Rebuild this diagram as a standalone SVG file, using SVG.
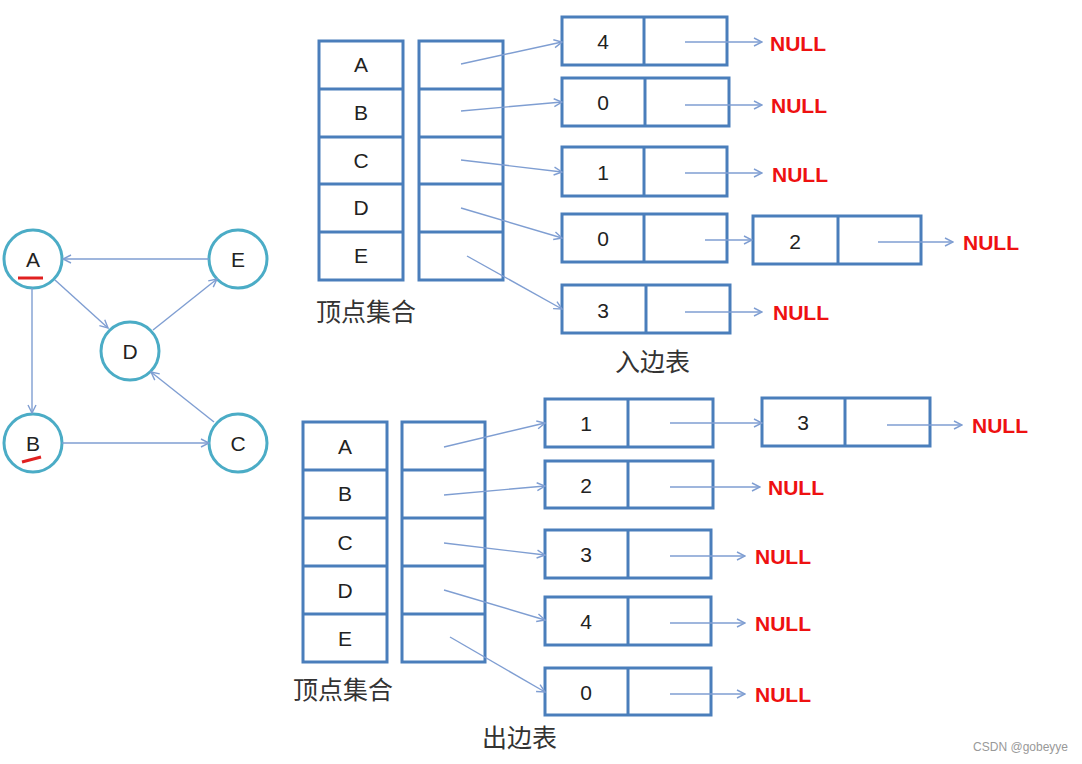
<svg xmlns="http://www.w3.org/2000/svg" width="1082" height="764" viewBox="0 0 1082 764">
<style>
.c{fill:#fff;stroke:#4BACC6;stroke-width:3}
.b{fill:#fff;stroke:#4A7EBB;stroke-width:3}
.t{font-family:"Liberation Sans",Arial,sans-serif;font-size:21px;fill:#222;text-anchor:middle}
.n{font-family:"Liberation Sans",Arial,sans-serif;font-size:21px;font-weight:bold;fill:#EE1111}
.z{font-family:"Noto Sans CJK SC","Noto Sans",sans-serif;font-size:25px;fill:#333}
.e{fill:none;stroke:#7F9ED2;stroke-width:1.4;marker-end:url(#ah)}
</style>
<defs>
<marker id="ah" viewBox="0 0 10 10" refX="9" refY="5" markerWidth="10" markerHeight="10" markerUnits="userSpaceOnUse" orient="auto">
<path d="M1,1 L9,5 L1,9" fill="none" stroke="#7F9ED2" stroke-width="1.4"/>
</marker>
</defs>
<rect width="1082" height="764" fill="#fff"/>

<!-- graph -->
<g id="graph-nodes">
<g id="gA"><circle class="c" cx="33" cy="259" r="29"/><text class="t" x="33" y="267">A</text><line x1="18" y1="278" x2="43" y2="278" stroke="#E02020" stroke-width="3"/></g>
<g id="gE"><circle class="c" cx="238" cy="259" r="29"/><text class="t" x="238" y="267">E</text></g>
<g id="gD"><circle class="c" cx="130" cy="351" r="29"/><text class="t" x="130" y="359">D</text></g>
<g id="gB"><circle class="c" cx="33" cy="443" r="29"/><text class="t" x="33" y="451">B</text><path d="M22,462 L41,457" stroke="#E02020" stroke-width="3"/></g>
<g id="gC"><circle class="c" cx="238" cy="443" r="29"/><text class="t" x="238" y="451">C</text></g>
</g>

<!-- top table -->
<g id="top-vertices">
<rect class="b" x="319" y="41" width="84" height="239"/>
<path d="M319,89H403M319,137H403M319,184H403M319,232H403" stroke="#4A7EBB" stroke-width="3"/>
<text class="t" x="361" y="72">A</text><text class="t" x="361" y="120">B</text><text class="t" x="361" y="168">C</text><text class="t" x="361" y="215">D</text><text class="t" x="361" y="263">E</text>
<rect class="b" x="419" y="41" width="84" height="239"/>
<path d="M419,89H503M419,137H503M419,184H503M419,232H503" stroke="#4A7EBB" stroke-width="3"/>
</g>
<g id="in-nodes">
<g id="i1"><rect class="b" x="562" y="17" width="165" height="48"/><line x1="644" y1="17" x2="644" y2="65" stroke="#4A7EBB" stroke-width="3"/><text class="t" x="603" y="49">4</text></g>
<g id="i2"><rect class="b" x="562" y="78" width="167" height="48"/><line x1="645" y1="78" x2="645" y2="126" stroke="#4A7EBB" stroke-width="3"/><text class="t" x="603" y="110">0</text></g>
<g id="i3"><rect class="b" x="562" y="147" width="165" height="49"/><line x1="644" y1="147" x2="644" y2="196" stroke="#4A7EBB" stroke-width="3"/><text class="t" x="603" y="180">1</text></g>
<g id="i4"><rect class="b" x="562" y="214" width="165" height="48"/><line x1="644" y1="214" x2="644" y2="262" stroke="#4A7EBB" stroke-width="3"/><text class="t" x="603" y="246">0</text></g>
<g id="i4b"><rect class="b" x="753" y="216" width="168" height="48"/><line x1="838" y1="216" x2="838" y2="264" stroke="#4A7EBB" stroke-width="3"/><text class="t" x="795" y="249">2</text></g>
<g id="i5"><rect class="b" x="562" y="285" width="168" height="48"/><line x1="646" y1="285" x2="646" y2="333" stroke="#4A7EBB" stroke-width="3"/><text class="t" x="603" y="318">3</text></g>
</g>

<!-- bottom table -->
<g id="bottom-vertices">
<rect class="b" x="303" y="422" width="84" height="240"/>
<path d="M303,470H387M303,518H387M303,566H387M303,614H387" stroke="#4A7EBB" stroke-width="3"/>
<text class="t" x="345" y="454">A</text><text class="t" x="345" y="501">B</text><text class="t" x="345" y="550">C</text><text class="t" x="345" y="598">D</text><text class="t" x="345" y="646">E</text>
<rect class="b" x="402" y="422" width="83" height="240"/>
<path d="M402,470H485M402,518H485M402,566H485M402,614H485" stroke="#4A7EBB" stroke-width="3"/>
</g>
<g id="out-nodes">
<g id="o1"><rect class="b" x="545" y="399" width="168" height="48"/><line x1="628" y1="399" x2="628" y2="447" stroke="#4A7EBB" stroke-width="3"/><text class="t" x="586" y="431">1</text></g>
<g id="o1b"><rect class="b" x="762" y="398" width="168" height="48"/><line x1="845" y1="398" x2="845" y2="446" stroke="#4A7EBB" stroke-width="3"/><text class="t" x="803" y="430">3</text></g>
<g id="o2"><rect class="b" x="545" y="461" width="168" height="47"/><line x1="628" y1="461" x2="628" y2="508" stroke="#4A7EBB" stroke-width="3"/><text class="t" x="586" y="493">2</text></g>
<g id="o3"><rect class="b" x="545" y="530" width="166" height="48"/><line x1="628" y1="530" x2="628" y2="578" stroke="#4A7EBB" stroke-width="3"/><text class="t" x="586" y="562">3</text></g>
<g id="o4"><rect class="b" x="545" y="597" width="166" height="48"/><line x1="628" y1="597" x2="628" y2="645" stroke="#4A7EBB" stroke-width="3"/><text class="t" x="586" y="629">4</text></g>
<g id="o5"><rect class="b" x="545" y="668" width="166" height="47"/><line x1="628" y1="668" x2="628" y2="715" stroke="#4A7EBB" stroke-width="3"/><text class="t" x="586" y="700">0</text></g>
</g>

<!-- connectors -->
<g id="connectors">
<line class="e" x1="209" y1="259" x2="63" y2="259"/>
<line class="e" x1="55" y1="280" x2="108" y2="328"/>
<line class="e" x1="153" y1="330" x2="217" y2="279"/>
<line class="e" x1="32" y1="288" x2="32" y2="413"/>
<line class="e" x1="62" y1="443" x2="209" y2="443"/>
<line class="e" x1="214" y1="422" x2="151" y2="372"/>

<line class="e" x1="461" y1="64" x2="562" y2="42"/>
<line class="e" x1="461" y1="111" x2="562" y2="102"/>
<line class="e" x1="461" y1="160" x2="562" y2="172"/>
<line class="e" x1="461" y1="208" x2="562" y2="238"/>
<line class="e" x1="467" y1="256" x2="562" y2="309"/>
<line class="e" x1="685" y1="42" x2="762" y2="42"/>
<line class="e" x1="685" y1="105" x2="762" y2="105"/>
<line class="e" x1="685" y1="173" x2="762" y2="173"/>
<line class="e" x1="705" y1="240" x2="752" y2="240"/>
<line class="e" x1="878" y1="242" x2="953" y2="242"/>
<line class="e" x1="685" y1="312" x2="762" y2="312"/>

<line class="e" x1="444" y1="447" x2="545" y2="423"/>
<line class="e" x1="444" y1="495" x2="545" y2="486"/>
<line class="e" x1="444" y1="543" x2="545" y2="555"/>
<line class="e" x1="444" y1="590" x2="545" y2="620"/>
<line class="e" x1="450" y1="637" x2="545" y2="692"/>
<line class="e" x1="670" y1="423" x2="762" y2="423"/>
<line class="e" x1="887" y1="425" x2="962" y2="425"/>
<line class="e" x1="670" y1="487" x2="760" y2="487"/>
<line class="e" x1="670" y1="556" x2="745" y2="556"/>
<line class="e" x1="670" y1="623" x2="745" y2="623"/>
<line class="e" x1="670" y1="694" x2="745" y2="694"/>
</g>

<g id="nulls">
<text class="n" x="770" y="51">NULL</text>
<text class="n" x="771" y="113">NULL</text>
<text class="n" x="772" y="182">NULL</text>
<text class="n" x="963" y="250">NULL</text>
<text class="n" x="773" y="320">NULL</text>
<text class="n" x="972" y="433">NULL</text>
<text class="n" x="768" y="495">NULL</text>
<text class="n" x="755" y="564">NULL</text>
<text class="n" x="755" y="631">NULL</text>
<text class="n" x="755" y="702">NULL</text>
</g>

<g id="labels">
<text class="z" x="316" y="321">顶点集合</text>
<text class="z" x="615" y="371">入边表</text>
<text class="z" x="293" y="699">顶点集合</text>
<text class="z" x="482" y="747">出边表</text>
<text x="1068" y="751" text-anchor="end" font-family="Liberation Sans,Arial,sans-serif" font-size="12" fill="#999">CSDN @gobeyye</text>
</g>
</svg>
